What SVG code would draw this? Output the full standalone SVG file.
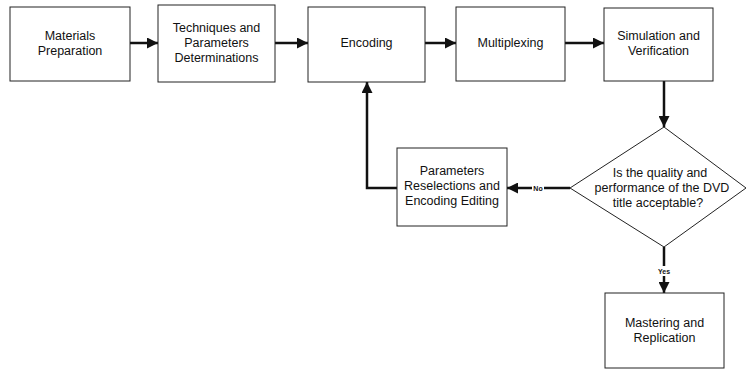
<svg xmlns="http://www.w3.org/2000/svg" width="749" height="371" viewBox="0 0 749 371">
<style>
.box{fill:#fff;stroke:#222;stroke-width:1}
.t{font-family:"Liberation Sans",Arial,sans-serif;font-size:12.5px;fill:#111;text-anchor:middle}
.lbl{font-family:"Liberation Sans",Arial,sans-serif;font-size:7px;font-weight:bold;fill:#111;text-anchor:middle}
.c{fill:none;stroke:#111;stroke-width:2.5}
</style>
<defs>
<marker id="ah" viewBox="0 0 10 10" refX="10" refY="5" markerWidth="5" markerHeight="4.4" markerUnits="strokeWidth" orient="auto">
<path d="M0,0 L10,5 L0,10 Z" fill="#111"/>
</marker>
</defs>
<rect width="749" height="371" fill="#fff"/>
<g id="connectors">
<line class="c" x1="130" y1="43" x2="158" y2="43" marker-end="url(#ah)"/>
<line class="c" x1="275" y1="43" x2="308" y2="43" marker-end="url(#ah)"/>
<line class="c" x1="425" y1="43" x2="456" y2="43" marker-end="url(#ah)"/>
<line class="c" x1="565" y1="43" x2="604" y2="43" marker-end="url(#ah)"/>
<line class="c" x1="664" y1="81" x2="664" y2="127" marker-end="url(#ah)"/>
<line class="c" x1="570" y1="188" x2="507" y2="188" marker-end="url(#ah)"/>
<polyline class="c" points="397,188 367,188 367,82" marker-end="url(#ah)"/>
<line class="c" x1="664" y1="247" x2="664" y2="293" marker-end="url(#ah)"/>
<rect x="532" y="183" width="12" height="10" fill="#fff"/>
<text class="lbl" x="538" y="190.5">No</text>
<rect x="656" y="266" width="16" height="10" fill="#fff"/>
<text class="lbl" x="664" y="273.5">Yes</text>
</g>
<g id="n1"><rect class="box" x="10" y="7" width="120" height="74"/>
<text class="t" x="70" y="40">Materials</text><text class="t" x="70" y="55">Preparation</text></g>
<g id="n2"><rect class="box" x="158" y="5" width="117" height="77"/>
<text class="t" x="216.5" y="32">Techniques and</text><text class="t" x="216.5" y="47">Parameters</text><text class="t" x="216.5" y="62">Determinations</text></g>
<g id="n3"><rect class="box" x="308" y="7" width="117" height="75"/>
<text class="t" x="366.5" y="47">Encoding</text></g>
<g id="n4"><rect class="box" x="456" y="7" width="109" height="74"/>
<text class="t" x="510.5" y="47">Multiplexing</text></g>
<g id="n5"><rect class="box" x="604" y="8" width="109" height="73"/>
<text class="t" x="658.5" y="40">Simulation  and</text><text class="t" x="658.5" y="55">Verification</text></g>
<g id="n6"><polygon class="box" points="664,127 746,188 664,247 570,188"/>
<text class="t" x="660" y="177">Is the quality and</text><text class="t" x="662" y="192">performance of the DVD</text><text class="t" x="658" y="207">title acceptable?</text></g>
<g id="n7"><rect class="box" x="397" y="148" width="110" height="78"/>
<text class="t" x="452" y="175">Parameters</text><text class="t" x="452" y="190">Reselections and</text><text class="t" x="452" y="205">Encoding Editing</text></g>
<g id="n8"><rect class="box" x="605" y="293" width="119" height="75"/>
<text class="t" x="664.5" y="327">Mastering and</text><text class="t" x="664.5" y="342">Replication</text></g>
</svg>
